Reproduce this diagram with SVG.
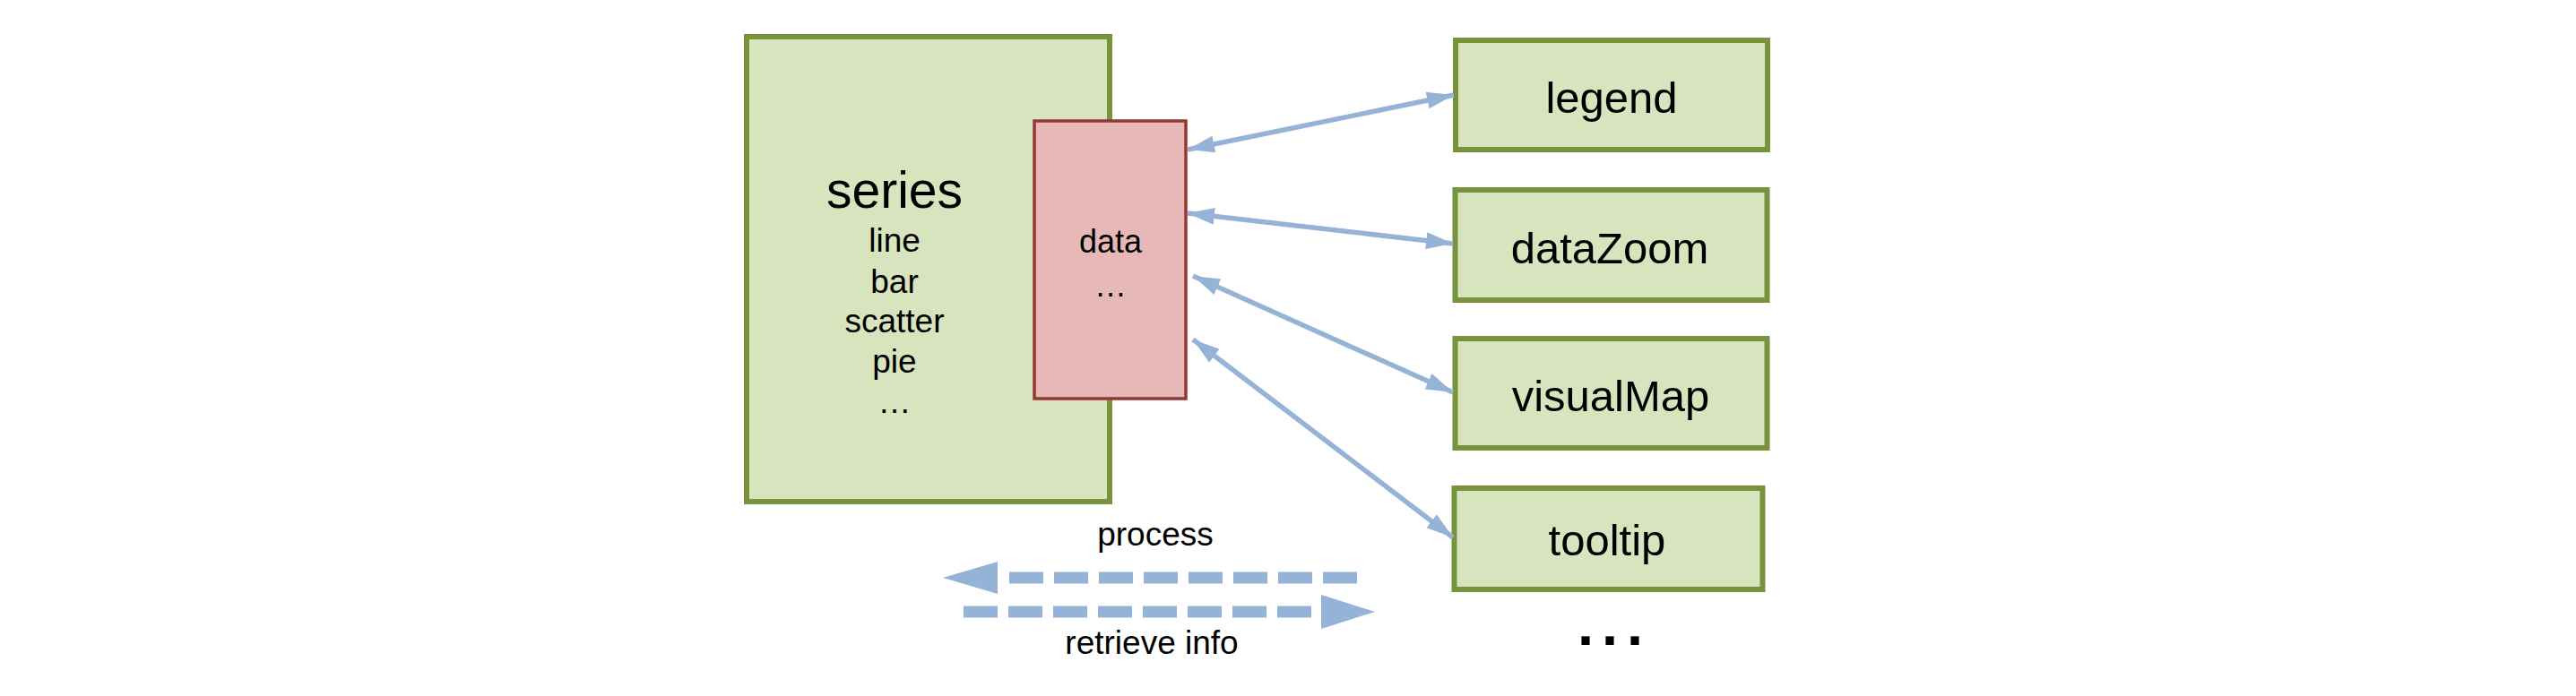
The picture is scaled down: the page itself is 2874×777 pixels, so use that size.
<svg xmlns="http://www.w3.org/2000/svg" width="2874" height="777" viewBox="0 0 2874 777">
<style>
.gbox{fill:#d7e4bd;stroke:#77933c;stroke-width:6}
.rbox{fill:#e6b9b8;stroke:#953735;stroke-width:3.5}
.t{font-family:"Liberation Sans",Arial,sans-serif;fill:#000;text-anchor:middle}
.conn{stroke:#95b3d7;stroke-width:5.5;fill:none;marker-start:url(#ah);marker-end:url(#ah)}
.dash{stroke:#95b3d7;stroke-width:13;stroke-dasharray:38 12;fill:none}
.head{fill:#95b3d7}
</style>
<defs>
<marker id="ah" markerUnits="userSpaceOnUse" markerWidth="30" markerHeight="20" refX="30" refY="10" orient="auto-start-reverse">
<path d="M0,0.5 L30,10 L0,19.5 z" fill="#95b3d7"/>
</marker>
</defs>
<rect width="2874" height="777" fill="#fff"/>
<g id="series">
<rect class="gbox" x="833" y="41" width="405" height="519"/>
<text class="t" x="998" y="232" font-size="57">series</text>
<text class="t" x="998" y="281" font-size="37">line</text>
<text class="t" x="998" y="327" font-size="37">bar</text>
<text class="t" x="998" y="371" font-size="37">scatter</text>
<text class="t" x="998" y="416" font-size="37">pie</text>
<text class="t" x="998" y="461" font-size="37">…</text>
</g>
<g id="data">
<rect class="rbox" x="1154" y="135" width="169" height="310"/>
<text class="t" x="1239" y="282" font-size="36">data</text>
<text class="t" x="1239" y="331" font-size="36">…</text>
</g>
<g id="legend">
<rect class="gbox" x="1624" y="45" width="348" height="122"/>
<text class="t" x="1798" y="126" font-size="49">legend</text>
</g>
<g id="dataZoom">
<rect class="gbox" x="1623.5" y="212" width="348" height="123"/>
<text class="t" x="1796" y="294" font-size="49">dataZoom</text>
</g>
<g id="visualMap">
<rect class="gbox" x="1623.5" y="378" width="348" height="122"/>
<text class="t" x="1797" y="459" font-size="49">visualMap</text>
</g>
<g id="tooltip">
<rect class="gbox" x="1622.5" y="545" width="344" height="113"/>
<text class="t" x="1793" y="620" font-size="49">tooltip</text>
</g>
<g id="more">
<text class="t" x="1769 1796 1824" y="720" font-size="65" font-weight="bold">...</text>
</g>
<g id="connectors">
<line class="conn" x1="1325" y1="167" x2="1622" y2="106"/>
<line class="conn" x1="1325" y1="238" x2="1621" y2="272"/>
<line class="conn" x1="1331" y1="308" x2="1621" y2="438"/>
<line class="conn" x1="1331" y1="379" x2="1621" y2="600"/>
</g>
<g id="legend-arrows">
<line class="dash" x1="1126" y1="645" x2="1514" y2="645"/>
<polygon class="head" points="1052,645 1113,627 1113,663"/>
<text class="t" x="1289" y="609" font-size="37">process</text>
<line class="dash" x1="1075" y1="683" x2="1463" y2="683"/>
<polygon class="head" points="1534,683 1474,664 1474,702"/>
<text class="t" x="1285" y="730" font-size="37">retrieve info</text>
</g>
</svg>
